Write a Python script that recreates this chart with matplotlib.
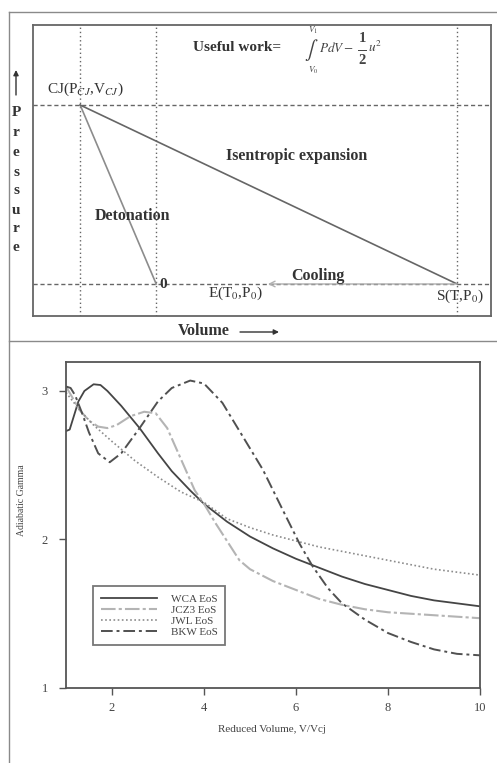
import numpy as np
import matplotlib.pyplot as plt
from matplotlib.lines import Line2D
from matplotlib.patches import FancyArrowPatch

plt.rcParams['font.family'] = ['Liberation Serif', 'DejaVu Serif']
plt.rcParams['mathtext.fontset'] = 'stix'

# --- schematic (top) : state points ---
v_cj, v_0, v_s = 1.03, 2.69, 9.26     # volumes of CJ, initial, end state
p_cj, p_0 = 7.25, 1.1                 # pressures
v_e = 5.13                            # end of cooling arrow

# --- adiabatic gamma curves (bottom) ---
wca_x = [1.0, 1.08, 1.17, 1.27, 1.4, 1.6, 1.75, 1.9, 2.2, 2.6, 3.0, 3.3, 3.7, 4.0, 4.5,
         5.0, 5.5, 6.0, 6.5, 7.0, 7.5, 8.0, 8.5, 9.0, 9.5, 10.0]
wca_y = [2.73, 2.74, 2.83, 2.93, 3.0, 3.045, 3.04, 3.0, 2.9, 2.75, 2.58, 2.46, 2.33, 2.24, 2.12,
         2.02, 1.94, 1.87, 1.81, 1.75, 1.70, 1.66, 1.62, 1.59, 1.57, 1.55]

jcz_x = [1.0, 1.15, 1.3, 1.5, 1.7, 1.9, 2.1, 2.4, 2.7, 2.95, 3.2, 3.5, 3.8, 4.0, 4.25, 4.5,
         4.77, 5.0, 5.5, 6.0, 6.5, 7.0, 7.5, 8.0, 9.0, 10.0]
jcz_y = [3.03, 2.95, 2.87, 2.80, 2.76, 2.75, 2.77, 2.83, 2.86, 2.85, 2.75, 2.54, 2.33, 2.24, 2.11, 1.99,
         1.86, 1.80, 1.72, 1.66, 1.60, 1.56, 1.53, 1.51, 1.49, 1.47]

jwl_x = [1.0, 1.3, 1.6, 2.0, 2.5, 3.0, 3.5, 4.0, 4.5, 5.0, 5.5, 6.0, 6.5, 7.0, 7.5, 8.0, 9.0, 10.0]
jwl_y = [2.99, 2.87, 2.77, 2.66, 2.53, 2.42, 2.32, 2.25, 2.14, 2.08, 2.03, 1.99, 1.95, 1.92, 1.89, 1.86, 1.80, 1.76]

bkw_x = [1.0, 1.1, 1.2, 1.35, 1.5, 1.7, 1.95, 2.2, 2.6, 3.0, 3.3, 3.7, 4.0, 4.4, 4.85, 5.28,
         5.71, 6.08, 6.36, 6.7, 7.0, 7.5, 8.0, 8.5, 9.0, 9.5, 10.0]
bkw_y = [3.03, 3.02, 2.97, 2.85, 2.72, 2.58, 2.52, 2.58, 2.75, 2.93, 3.02, 3.07, 3.05, 2.92, 2.69, 2.47,
         2.20, 1.97, 1.82, 1.67, 1.57, 1.46, 1.37, 1.31, 1.26, 1.23, 1.22]

W, H = 497, 763
fig = plt.figure(figsize=(W / 100, H / 100), dpi=100)

def fx(px):
    return px / W

def fy(py):
    return 1 - py / H

def ptext(px, py, s, **kw):
    kw.setdefault('color', '#333333')
    kw.setdefault('ha', 'center')
    kw.setdefault('va', 'center')
    return fig.text(fx(px), fy(py), s, **kw)

def parrow(x0, y0, x1, y1):
    fig.add_artist(FancyArrowPatch((fx(x0), fy(y0)), (fx(x1), fy(y1)), transform=fig.transFigure,
                                   arrowstyle='-|>,head_length=3,head_width=1.5',
                                   color='#333333', lw=1.0, shrinkA=0, shrinkB=0))

# outer frame lines
frame = '#8a8a8a'
fig.add_artist(Line2D([fx(9), 1], [fy(12), fy(12)], color=frame, lw=1.0))
fig.add_artist(Line2D([fx(9), fx(9)], [fy(12), 0], color=frame, lw=1.0))
fig.add_artist(Line2D([fx(9), 1], [fy(341), fy(341)], color=frame, lw=1.0))

# ---------- top schematic ----------
ax1 = fig.add_axes([fx(33), fy(316), fx(491) - fx(33), fy(25) - fy(316)])
ax1.set_xlim(0, 10)
ax1.set_ylim(0, 10)
ax1.set_xticks([])
ax1.set_yticks([])
for s in ax1.spines.values():
    s.set_color('#666666')
    s.set_linewidth(1.3)

for v in [v_cj, v_0, v_s]:
    ax1.axvline(v, color='#666666', lw=1.0, ls=(0, (1, 2)))
for p in [p_cj, p_0]:
    ax1.axhline(p, color='#666666', lw=1.0, ls=(0, (3, 2)))

ax1.plot([v_cj, v_0], [p_cj, p_0], color='#8c8c8c', lw=1.2)
ax1.plot([v_cj, v_s], [p_cj, p_0], color='#666666', lw=1.2)
ax1.annotate('', xy=(v_e, p_0), xytext=(v_s, p_0),
             arrowprops=dict(arrowstyle='->', color='#b0b0b0', lw=1.0, shrinkA=0, shrinkB=0))

ax1.text(4.45, 9.21, 'Useful work=', fontsize=11, fontweight='bold', color='#333333',
         ha='center', va='center')
ax1.text(1.14, 7.80, r'CJ(P$_{CJ}$,V$_{CJ}$)', fontsize=11, color='#333333', ha='center', va='center')
ax1.text(5.76, 5.50, 'Isentropic expansion', fontsize=11.5, fontweight='bold', color='#333333',
         ha='center', va='center')
ax1.text(2.18, 3.44, 'Detonation', fontsize=11.5, fontweight='bold', color='#333333',
         ha='center', va='center')
ax1.text(6.22, 1.37, 'Cooling', fontsize=11.5, fontweight='bold', color='#333333',
         ha='center', va='center')
ax1.text(2.76, 1.07, '0', fontsize=11, fontweight='bold', color='#333333', ha='left', va='center')
ax1.text(4.43, 0.79, r'E(T$_0$,P$_0$)', fontsize=11, color='#333333', ha='center', va='center')
ax1.text(9.32, 0.69, r'S(T,P$_0$)', fontsize=11, color='#333333', ha='center', va='center')

# useful work formula, built piece by piece (limits above/below the integral)
fc = '#444444'
ptext(311, 50, r'$\int$', fontsize=14, color=fc)
ptext(313, 30, r'$V_1$', fontsize=6.5, color=fc)
ptext(313, 70, r'$V_0$', fontsize=6.5, color=fc)
ptext(319, 48, r'$PdV-$', fontsize=9.5, color=fc, ha='left')
ptext(362, 39, '1', fontsize=10.5, fontweight='bold', color=fc)
fig.add_artist(Line2D([fx(358), fx(366)], [fy(49.5), fy(49.5)], color=fc, lw=0.7))
ptext(362, 60, '2', fontsize=10.5, fontweight='bold', color=fc)
ptext(368, 47, r'$u^2$', fontsize=9.5, color=fc, ha='left')

# axis words outside the box
for ch, py in zip('Pressure', [113, 133, 152, 172, 191, 210, 228, 248]):
    ptext(16, py, ch, fontsize=11, fontweight='bold')
parrow(16, 95, 16, 70)
ptext(204, 331, 'Volume', fontsize=11.5, fontweight='bold')
parrow(240, 332, 279, 332)

# ---------- bottom gamma plot ----------
ax2 = fig.add_axes([fx(66), fy(688), fx(480) - fx(66), fy(362) - fy(688)])
ax2.plot(wca_x, wca_y, color='#454545', lw=1.3, label='WCA EoS')
ax2.plot(jcz_x, jcz_y, color='#b4b4b4', lw=1.5, ls=(0, (7, 1.5, 1.5, 1.5)), label='JCZ3 EoS')
ax2.plot(jwl_x, jwl_y, color='#8c8c8c', lw=1.2, ls=(0, (1, 1.5)), label='JWL EoS')
ax2.plot(bkw_x, bkw_y, color='#505050', lw=1.4, ls=(0, (6, 2, 1.5, 2)), label='BKW EoS')

ax2.set_xlim(1, 10)
ax2.set_ylim(1, 3.195)
ax2.set_xticks([2, 4, 6, 8, 10])
ax2.set_yticks([1, 2, 3])
ax2.tick_params(direction='out', length=5, width=1.0, color='#555555', labelsize=9,
                labelcolor='#444444')
ax2.tick_params(axis='y', pad=8)
ax2.tick_params(axis='x', pad=5)
for s in ax2.spines.values():
    s.set_color('#555555')
    s.set_linewidth(1.3)

ptext(272, 729, 'Reduced Volume, V/Vcj', fontsize=8, color='#444444')
ptext(22, 500, 'Adiabatic Gamma', fontsize=7, color='#444444', rotation=90)

leg = ax2.legend(loc='lower left', bbox_to_anchor=(0.065, 0.132), fontsize=8, frameon=True,
                 fancybox=False, handlelength=5.1, borderpad=0.7, labelspacing=0.13,
                 handletextpad=1.2, borderaxespad=0)
leg.get_frame().set_edgecolor('#555555')
leg.get_frame().set_linewidth(1.3)
for t in leg.get_texts():
    t.set_color('#444444')

fig.savefig('out.png', dpi=100)
